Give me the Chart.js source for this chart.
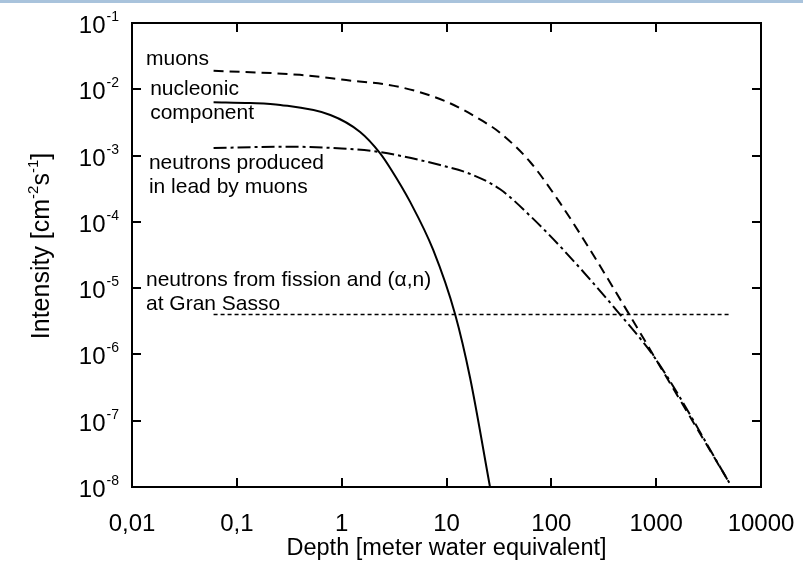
<!DOCTYPE html>
<html>
<head>
<meta charset="utf-8">
<script src="https://cdn.jsdelivr.net/npm/chart.js@4.4.1/dist/chart.umd.min.js"></script>
<style>
  body { margin: 0; background: #fff; }
  #wrap { position: relative; width: 803px; height: 563px; }
  #bar { position: absolute; left: 0; top: 0; width: 803px; height: 3px; background: #a9c3dc; }
</style>
</head>
<body>
<div id="wrap">
  <canvas id="depthChart"></canvas>
  <div id="bar"></div>
</div>
<script>
// depth in meter water equivalent, intensity in cm^-2 s^-1
let muonDepth = [0.06, 0.4, 1, 3.6, 10, 22.3, 32.5, 62.8, 121, 234, 565, 1000, 5000];
let muonFlux  = [0.019, 0.0165, 0.014, 0.0108, 0.0065, 3.3e-3, 2.2e-3, 8.0e-4, 1.93e-4, 3.8e-5, 3.8e-6, 8.3e-7, 1.15e-8];

let nucDepth = [0.06, 0.134, 0.26, 0.78, 1.5, 2.32, 2.9, 4.5, 7.45, 12.1, 16.8, 26];
let nucFlux  = [6.4e-3, 6.2e-3, 5.8e-3, 4.1e-3, 2.27e-3, 1.09e-3, 6.5e-4, 2.0e-4, 3.8e-5, 4.0e-6, 4.4e-7, 1e-8];

let leadDepth = [0.06, 0.3, 1, 2.3, 8.7, 16.8, 32.5, 62.8, 130, 453, 1000, 5000];
let leadFlux  = [1.3e-3, 1.36e-3, 1.28e-3, 1.13e-3, 7.2e-4, 5.3e-4, 3.1e-4, 1.23e-4, 3.8e-5, 4.0e-6, 8.3e-7, 1.15e-8];

let gsDepth = [0.06, 5000];
let gsFlux  = [4e-6, 4e-6];

let xTickVals   = [0.01, 0.1, 1, 10, 100, 1000, 10000];
let xTickLabels = ['0,01', '0,1', '1', '10', '100', '1000', '10000'];
let yTickVals   = [1e-1, 1e-2, 1e-3, 1e-4, 1e-5, 1e-6, 1e-7, 1e-8];
let yTickExps   = ['-1', '-2', '-3', '-4', '-5', '-6', '-7', '-8'];

// text notes, anchored at data coordinates (left edge, middle of first line)
let notes = [
  { x: 0.0136, y: 0.0286, lines: ['muons'] },
  { x: 0.0149, y: 0.0101, lines: ['nucleonic', 'component'] },
  { x: 0.0145, y: 7.7e-4, lines: ['neutrons produced', 'in lead by muons'] },
  { x: 0.0136, y: 1.33e-5, lines: ['neutrons from fission and (\u03B1,n)', 'at Gran Sasso'] }
];

const FONT = '"Liberation Sans", Arial, Helvetica, sans-serif';

function pts(xs, ys) {
  return xs.map((x, i) => ({ x: x, y: ys[i] }));
}

function curve(label, xs, ys, dash, width) {
  return {
    label: label,
    data: pts(xs, ys),
    borderColor: '#000',
    borderWidth: width,
    borderDash: dash,
    pointRadius: 0,
    fill: false,
    cubicInterpolationMode: 'monotone'
  };
}

// frame, inward ticks, 10^n labels, y title and the notes
const decorPlugin = {
  id: 'decor',
  afterDraw(chart) {
    const { ctx, chartArea: a, scales: { x, y } } = chart;
    ctx.save();
    ctx.strokeStyle = '#000';
    ctx.fillStyle = '#000';
    ctx.lineWidth = 2;
    ctx.strokeRect(a.left, a.top, a.right - a.left, a.bottom - a.top);

    ctx.beginPath();
    xTickVals.forEach(v => {
      const px = Math.round(x.getPixelForValue(v));
      ctx.moveTo(px, a.bottom); ctx.lineTo(px, a.bottom - 9);
      ctx.moveTo(px, a.top); ctx.lineTo(px, a.top + 9);
    });
    yTickVals.forEach(v => {
      const py = Math.round(y.getPixelForValue(v));
      ctx.moveTo(a.left, py); ctx.lineTo(a.left + 9, py);
      ctx.moveTo(a.right, py); ctx.lineTo(a.right - 9, py);
    });
    ctx.stroke();

    // y tick labels: 10 with a raised exponent
    ctx.textAlign = 'right';
    ctx.textBaseline = 'alphabetic';
    const right = a.left - 13;
    yTickVals.forEach((v, i) => {
      const py = y.getPixelForValue(v);
      ctx.font = '14px ' + FONT;
      const ew = ctx.measureText(yTickExps[i]).width;
      ctx.fillText(yTickExps[i], right, py - 2);
      ctx.font = '24px ' + FONT;
      ctx.fillText('10', right - ew - 1, py + 10);
    });

    // y axis title with superscripts
    const parts = [['Intensity [cm', 25, 0], ['-2', 15, -11], ['s', 25, 0], ['-1', 15, -11], [']', 25, 0]];
    let total = 0;
    parts.forEach(p => { ctx.font = p[1] + 'px ' + FONT; total += ctx.measureText(p[0]).width; });
    ctx.translate(49, 246);
    ctx.rotate(-Math.PI / 2);
    ctx.textAlign = 'left';
    let cx = -total / 2;
    parts.forEach(p => {
      ctx.font = p[1] + 'px ' + FONT;
      ctx.fillText(p[0], cx, p[2]);
      cx += ctx.measureText(p[0]).width;
    });
    ctx.setTransform(1, 0, 0, 1, 0, 0);

    // notes
    ctx.font = '21px ' + FONT;
    ctx.textAlign = 'left';
    ctx.textBaseline = 'middle';
    notes.forEach(n => {
      const nx = x.getPixelForValue(n.x);
      const ny = y.getPixelForValue(n.y);
      n.lines.forEach((t, j) => ctx.fillText(t, nx, ny + j * 24));
    });
    ctx.restore();
  }
};

const chart = new Chart(document.getElementById('depthChart'), {
  type: 'line',
  data: {
    datasets: [
      curve('muons', muonDepth, muonFlux, [10, 6], 2),
      curve('nucleonic component', nucDepth, nucFlux, [], 2),
      curve('neutrons produced in lead by muons', leadDepth, leadFlux, [13, 4, 3, 4], 2),
      curve('neutrons from fission and (\u03B1,n) at Gran Sasso', gsDepth, gsFlux, [4, 3], 1.6)
    ]
  },
  options: {
    responsive: true,
    maintainAspectRatio: false,
    animation: false,
    layout: { padding: { left: 0, top: 23, right: 42, bottom: 0 } },
    plugins: {
      legend: { display: false },
      tooltip: { enabled: false }
    },
    scales: {
      x: {
        type: 'logarithmic',
        min: 0.01,
        max: 10000,
        afterBuildTicks: s => { s.ticks = xTickVals.map(v => ({ value: v })); },
        afterFit: s => { s.height = 76; s.paddingLeft = 0; s.paddingRight = 0; },
        grid: { display: false },
        border: { display: false },
        ticks: {
          padding: 15,
          color: '#000',
          maxRotation: 0,
          autoSkip: false,
          font: { family: FONT, size: 24 },
          callback: v => xTickLabels[xTickVals.indexOf(v)]
        },
        title: {
          display: true,
          text: 'Depth [meter water equivalent]',
          color: '#000',
          font: { family: FONT, size: 23.5 },
          padding: { top: 0, bottom: 0 }
        }
      },
      y: {
        type: 'logarithmic',
        min: 1e-8,
        max: 1e-1,
        afterBuildTicks: s => { s.ticks = yTickVals.map(v => ({ value: v })); },
        afterFit: s => { s.width = 132; s.paddingTop = 0; s.paddingBottom = 0; },
        grid: { display: false },
        border: { display: false },
        ticks: { display: false }
      }
    }
  },
  plugins: [decorPlugin]
});
</script>
</body>
</html>
